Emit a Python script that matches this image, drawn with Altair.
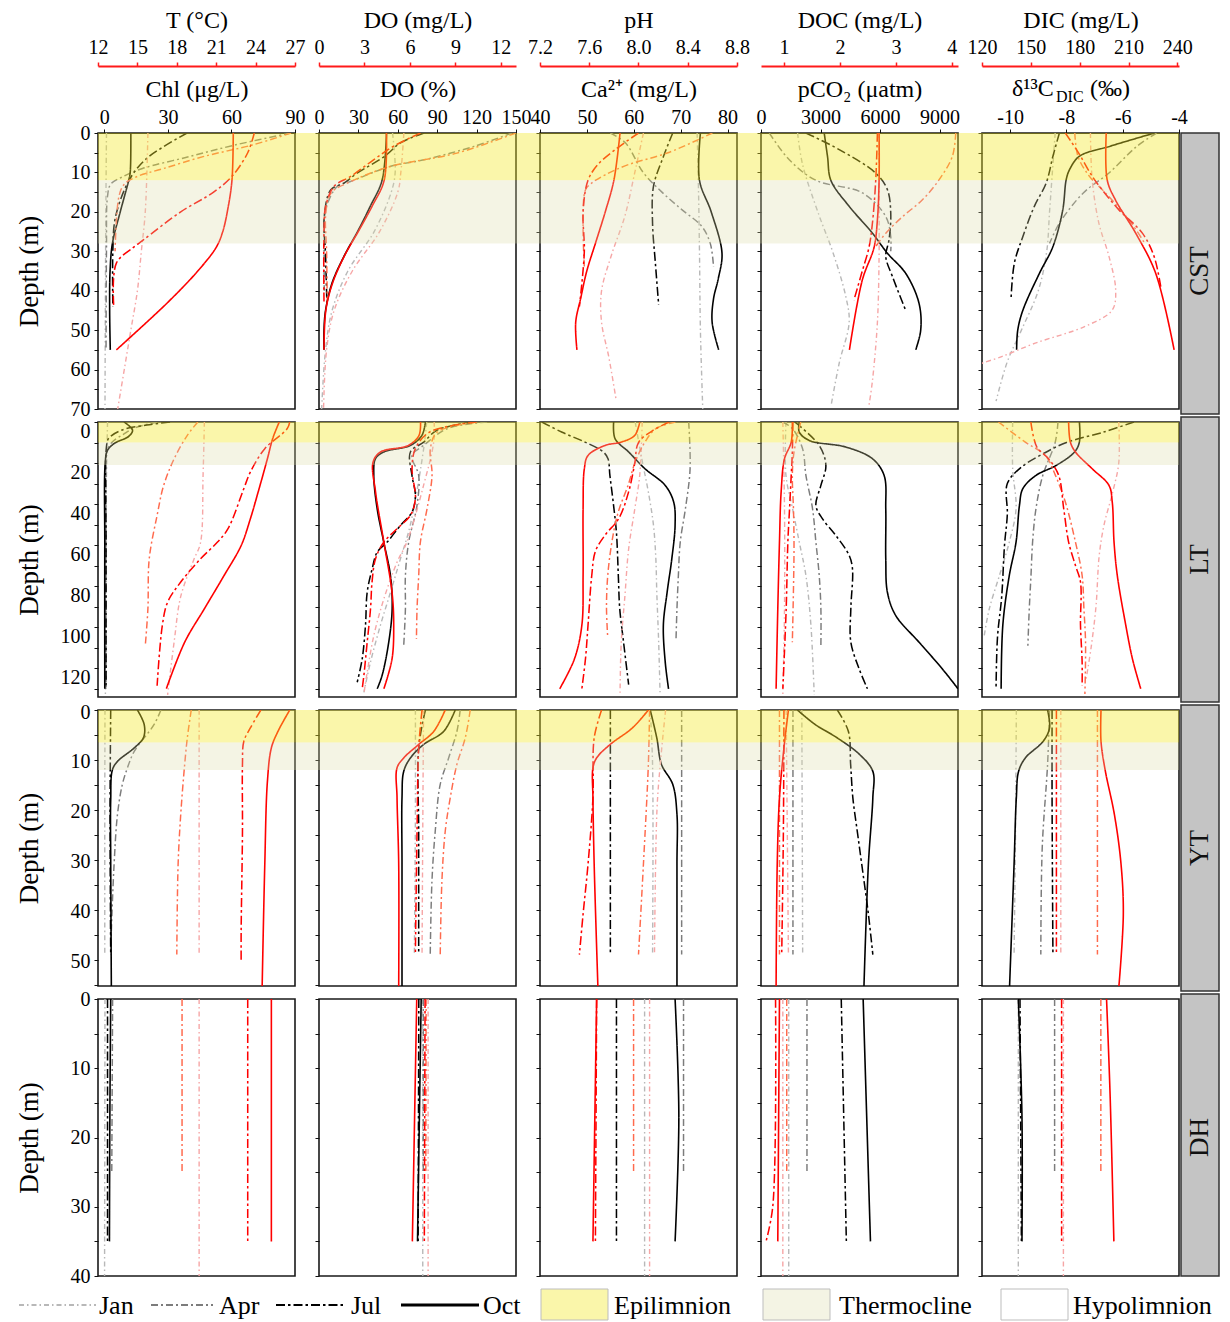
import altair as alt
import pandas as pd

FONT = "Liberation Serif"
MONTHS = ["Jan", "Apr", "Jul", "Oct"]
LAKES = ["CST", "LT", "YT", "DH"]

# ---------------- data: [depth (m), value] per month ----------------
CST_CHL = {"Jan": [[0, 1.0], [20, 0.7], [40, 0.5], [70, 0.3]],
           "Apr": [[0, 88], [3, 62], [6, 40], [9, 18], [11, 9], [13, 3], [16, 1.5], [30, 1], [55, 0.8]],
           "Jul": [[0, 39], [6, 21], [10, 14], [15, 9], [22, 5], [30, 4], [44, 4]],
           "Oct": [[0, 12.5], [10, 12.2], [12, 11.5], [20, 7.5], [28, 3.8], [35, 2.7], [45, 2.5], [55, 2.8]]}
CST_T = {"Jan": [[0, 15.8], [20, 15.6], [30, 15.3], [40, 15.0], [50, 14.5], [60, 14.0], [70, 13.5]],
         "Apr": [[0, 26.7], [3, 23.8], [6, 20.0], [9, 17.0], [11, 15.0], [13, 14.0], [16, 13.6], [30, 13.3]],
         "Jul": [[0, 23.9], [5, 23.4], [11, 22.2], [15, 20.8], [20, 18.3], [27, 15.5], [29, 14.7], [33, 13.4], [44, 13.2]],
         "Oct": [[0, 22.3], [12, 22.2], [19, 21.9], [25, 21.5], [29, 21.0], [35, 19.6], [43, 17.3], [55, 13.4]]}
CST_DOP = {"Jan": [[0, 56], [10, 58], [15, 55], [25, 42], [35, 22], [45, 10], [55, 5], [70, 2]],
           "Apr": [[0, 147], [3.4, 118], [6.8, 80], [8.5, 54], [12.3, 24], [13.5, 14], [19.5, 5], [25, 4], [40, 4]],
           "Jul": [[0, 80], [2.5, 62], [5.9, 50], [10.2, 29], [12.7, 19], [14.4, 9], [21.2, 4], [31, 5], [43, 6]],
           "Oct": [[0, 51.4], [12, 48], [18.6, 39], [24.6, 30], [31.3, 19], [38, 10], [45, 5], [50, 3.8], [55, 3.8]]}
CST_DOM = {"Jan": [[0, 5.6], [10, 5.4], [15, 5.2], [25, 4.0], [35, 2.2], [45, 1.0], [55, 0.5], [70, 0.3]],
           "Apr": [[0, 13.0], [5.1, 9.1], [8.5, 4.7], [12.3, 2.1], [15.2, 0.8], [20.3, 0.45], [30, 0.5], [43, 0.55]],
           "Jul": [[0, 6.7], [3.4, 4.9], [6.8, 3.6], [11, 2.1], [13.5, 1.0], [18.6, 0.44], [25, 0.33], [43, 0.33]],
           "Oct": [[0, 4.45], [12, 4.3], [18.6, 3.5], [24.6, 2.65], [31, 1.7], [38, 0.9], [45, 0.45], [55, 0.33]]}
CST_CA = {"Jan": [[0, 73.5], [15, 73.8], [30, 74.0], [50, 74.2], [70, 74.7]],
          "Apr": [[0, 55], [2.5, 58.2], [10, 62], [15, 66], [19.5, 70.3], [23.7, 74.5], [28, 76.3], [34, 77]],
          "Jul": [[0, 68.3], [6, 66.3], [13.5, 64.2], [23, 64], [33, 64.6], [43.6, 65.3]],
          "Oct": [[0, 74.2], [12, 74], [20, 76.5], [30.5, 78.8], [37, 78], [42, 77], [48, 76.7], [55, 78.1]]}
CST_PH = {"Jan": [[0, 8.04], [10, 7.97], [21, 7.89], [31, 7.78], [40, 7.70], [48, 7.70], [57, 7.76], [68, 7.82]],
          "Apr": [[0, 8.60], [5, 8.24], [8, 7.92], [10.6, 7.73], [12.7, 7.62], [14.4, 7.57], [23, 7.55], [34, 7.56]],
          "Jul": [[0, 8.00], [4, 7.82], [8, 7.67], [12, 7.59], [20, 7.55], [30, 7.56], [44, 7.52]],
          "Oct": [[0, 7.85], [12, 7.80], [20, 7.73], [28, 7.65], [35, 7.58], [42, 7.53], [48, 7.49], [55, 7.50]]}
CST_PCO2 = {"Jan": [[0, 1845], [8, 2096], [21, 2935], [30, 3606], [41.5, 4276], [48, 4444], [58.4, 3941], [69.4, 3522]],
            "Apr": [[0, 419], [6.8, 1425], [12, 2767], [15.2, 5115], [21.2, 6289], [26.3, 6540], [30, 6540]],
            "Jul": [[0, 2264], [4.2, 3941], [10.2, 5786], [14.4, 6373], [20.3, 6540], [27, 6456], [31.3, 6289], [36.4, 6625], [45, 7295]],
            "Oct": [[0, 3186], [6, 3354], [12, 3522], [18.6, 4444], [25.4, 5618], [30.5, 6373], [35.6, 7295], [43.2, 7966], [50, 8050], [55, 7798]]}
CST_DOC = {"Jan": [[0, 2.70], [17, 2.70], [31, 2.70], [48, 2.67], [63, 2.58], [69, 2.52]],
           "Apr": [[0, 4.07], [5.9, 4.01], [11.9, 3.77], [17, 3.47], [21.2, 3.12], [25.4, 2.82], [28.8, 2.64]],
           "Jul": [[0, 2.67], [12, 2.64], [23, 2.58], [29, 2.52], [35, 2.40], [42.4, 2.25]],
           "Oct": [[0, 2.70], [12, 2.70], [22, 2.67], [29, 2.61], [37.3, 2.40], [55, 2.17]]}
CST_D13 = {"Jan": [[0, -8.4], [10, -8.5], [20, -8.6], [30, -8.7], [40, -9.0], [50, -9.6], [58, -10.1], [68, -10.5]],
           "Apr": [[0, -4.8], [3.4, -5.5], [10.2, -6.5], [15.2, -7.4], [22.9, -8.25], [28, -8.6]],
           "Jul": [[0, -8.25], [5.9, -8.48], [12.7, -8.72], [18.6, -9.14], [26.3, -9.55], [33, -9.85], [42.3, -9.97]],
           "Oct": [[0, -4.87], [3.4, -6.47], [5.9, -7.54], [9.3, -7.89], [11.9, -8.01], [19.5, -8.13], [28.8, -8.48],
                   [35.6, -8.96], [45, -9.55], [50, -9.73], [55, -9.77]]}
CST_DIC = {"Jan": [[0, 186.6], [11.9, 187.7], [22.9, 191.8], [31.3, 198], [39.8, 202.1], [44.9, 200], [49, 183.6],
                   [53.3, 152.7], [56.7, 132.1], [58.4, 119.8]],
           "Apr": [[0, 177], [6, 179], [11, 186], [14, 193], [18, 202], [23, 212], [28, 220]],
           "Jul": [[0, 171.2], [5.1, 179.4], [11, 187.7], [14.4, 193.8], [19.5, 204.1], [25.4, 218.5], [31.3, 225.7], [39, 229.8]],
           "Oct": [[0, 196.3], [11.9, 196.9], [17, 202], [25.4, 214.4], [35.6, 226.7], [55, 238]]}

LT_CHL = {"Jan": [[0, 1.5], [40, 0.8], [90, 0.6], [133, 0.5]],
          "Apr": [[0, 25], [3, 14], [6, 9], [10, 3.5], [15, 1], [30, 0.8], [130, 0.8]],
          "Jul": [[0, 31], [1.5, 20], [4, 8], [8, 2], [12, 1], [60, 0.8], [130, 0.8]],
          "Oct": [[0, 9.3], [4, 13.3], [7, 11.5], [10.5, 4.6], [14, 1.4], [20, 0.4], [60, 0.2], [130, 0.2]]}
LT_T = {"Jan": [[0, 20.1], [26, 20.0], [59, 19.8], [67, 19.3], [85, 18.3], [107, 17.8], [133, 17.3]],
        "Apr": [[0, 19.6], [6.5, 18.8], [17.9, 17.8], [30.9, 17.0], [45.5, 16.5], [66.7, 15.9], [91, 15.8], [109, 15.6]],
        "Jul": [[0, 26.6], [3.3, 26.4], [13, 24.7], [24.4, 23.6], [32.5, 23.1], [52, 21.9], [58.5, 21.1], [66.7, 19.8],
                [78, 18.3], [87.8, 17.3], [99, 16.9], [128.5, 16.5]],
        "Oct": [[0, 25.8], [8.1, 25.3], [17.9, 24.9], [34, 24.2], [47.2, 23.6], [60.2, 22.9], [74.8, 21.6], [91, 20.1],
                [107.3, 18.6], [130, 17.2]]}
LT_DOP = {"Jan": [[0, 82], [13, 79.7], [50, 69.6], [66.7, 62], [83, 54.4], [99, 46.8], [117, 39.2], [131.7, 34.2]],
          "Apr": [[0, 128], [3.3, 97.4], [11.4, 79.7], [16.3, 70.8], [26, 75.9], [40.7, 74.6], [58.5, 68.3], [74.8, 65.8],
                  [91, 65.8], [109, 64.5]],
          "Jul": [[0, 117], [4, 89.8], [9.8, 79.7], [14.6, 69.6], [26, 70.8], [35.8, 73.4], [43.9, 70.8], [50.4, 62],
                  [58.5, 51.9], [63.4, 44.3], [71.5, 40.5], [82.9, 36.7], [99, 35.4], [115.4, 32.9], [126.8, 29.1]],
          "Oct": [[0, 81], [6.5, 78.4], [11.4, 69.6], [14.6, 49.3], [17.9, 43], [26, 41.7], [42.3, 44.3], [58.5, 49.3],
                  [74.8, 54.4], [91, 55.7], [107.3, 53.1], [123.6, 48], [130, 44.3]]}
LT_DOM = {"Jan": [[0, 7.6], [9.8, 7.57], [30.9, 6.9], [58.5, 5.8], [68.3, 5.15], [86.2, 4.28], [104, 3.62], [122, 3.18], [132.5, 2.96]],
          "Apr": [[0, 10.4], [4.9, 7.8], [13, 7.35], [26, 7.46], [42.3, 7.13], [58.5, 6.69], [74.8, 6.58], [91, 6.47], [105.7, 6.43]],
          "Jul": [[0, 10.4], [4.9, 7.3], [13, 6.36], [22.8, 6.14], [37.4, 6.36], [45.5, 6.03], [52, 5.15], [58.5, 4.28],
                  [66.7, 3.73], [78, 3.5], [91, 3.4], [107.3, 3.18], [123.6, 2.96], [130, 2.85]],
          "Oct": [[0, 6.7], [6.5, 6.6], [11.4, 5.9], [14.6, 4.06], [19.5, 3.57], [34, 3.73], [58.5, 4.28], [83, 4.82],
                  [99, 4.93], [115.4, 4.82], [130, 4.28]]}
LT_CA = {"Jan": [[0, 60.3], [17.9, 61.7], [34.1, 63.1], [50.4, 64.2], [66.7, 64.7], [83, 64.9], [107.3, 65.3], [132.5, 65.6]],
         "Apr": [[0, 71.7], [22.8, 72], [42.3, 71], [58.5, 69.9], [74.8, 69.5], [91, 69.2], [105.7, 69]],
         "Jul": [[0, 40.4], [4.9, 44.6], [9.8, 49.6], [14.6, 53.5], [17.9, 54.5], [26, 54.9], [39, 55.6], [54, 56.3],
                 [75, 56.7], [91, 57], [107, 57.8], [128, 58.9]],
         "Oct": [[0, 55.7], [8.1, 56], [14.6, 58.9], [22.8, 62.4], [30.9, 66.7], [39, 68.5], [50.4, 68.8], [66.7, 68.1],
                 [83, 67.1], [99, 66.3], [117, 66.7], [130, 67.4]]}
LT_PH = {"Jan": [[0, 8.03], [26, 8.01], [42.3, 7.97], [61.8, 7.92], [84.5, 7.89], [107.3, 7.86], [132.5, 7.85]],
         "Apr": [[0, 8.30], [3.3, 8.14], [10, 8.05], [20, 7.97], [30, 7.92], [45, 7.83], [60, 7.78], [75, 7.75], [90, 7.74], [105, 7.75]],
         "Jul": [[0, 8.25], [4, 8.12], [10, 8.0], [20, 7.97], [34, 7.92], [47, 7.84], [55, 7.73], [63, 7.65], [75, 7.62],
                 [99, 7.59], [115, 7.57], [130, 7.54]],
         "Oct": [[0, 8.01], [6.5, 7.97], [9.8, 7.86], [11.4, 7.73], [16.3, 7.59], [22.8, 7.56], [42.3, 7.55], [74.8, 7.55],
                 [99, 7.54], [115.4, 7.48], [130, 7.36]]}
LT_PCO2 = {"Jan": [[0, 1258], [26, 1258], [42.3, 1593], [58.5, 1929], [74.8, 2264], [99, 2516], [133, 2683]],
           "Apr": [[0, 1090], [3.3, 1593], [13, 2096], [26, 2264], [42.3, 2599], [58.5, 2767], [74.8, 2935], [91, 3019], [109, 3019]],
           "Jul": [[0, 1700], [11.4, 2935], [21.2, 3270], [30.9, 3019], [40.7, 2767], [47.2, 3102], [55.3, 3773], [65, 4444],
                   [71.5, 4611], [91, 4528], [107.3, 4528], [120.3, 4947], [130, 5366]],
           "Oct": [[0, 1929], [4.9, 1929], [9, 2432], [12.2, 4276], [17.9, 5618], [26, 6205], [42.3, 6289], [66.7, 6289],
                   [83, 6373], [94.3, 6792], [107.3, 7966], [120.3, 9140], [130, 9930]]}
LT_DOC = {"Jan": [[0, 0.98], [42.3, 1.01], [91, 1.01], [133, 0.98]],
          "Apr": [[0, 1.30], [14.6, 1.18], [26, 1.15], [42.3, 1.17], [61.8, 1.18], [107.3, 1.15]],
          "Jul": [[0, 1.16], [14.6, 1.15], [26, 1.13], [42.3, 1.10], [58.5, 1.07], [91, 1.04], [130, 0.98]],
          "Oct": [[0, 1.15], [9.8, 1.13], [17.9, 1.01], [34, 0.95], [58.5, 0.92], [91, 0.89], [130, 0.86]]}
LT_D13 = {"Jan": [[0, -9.91], [22.8, -9.91], [42.3, -9.79], [58.5, -10.03], [74.8, -10.38], [91, -10.74], [104, -10.92]],
          "Apr": [[0, -8.3], [10, -8.4], [26, -8.84], [42, -9.08], [58, -9.2], [75, -9.26], [91, -9.32], [109, -9.37]],
          "Jul": [[0, -5.6], [5, -6.7], [10, -8.0], [16, -8.9], [22, -9.6], [30, -10.1], [45, -10.1], [60, -10.2],
                  [85, -10.3], [105, -10.45], [129, -10.5]],
          "Oct": [[0, -7.54], [9.8, -7.54], [14.6, -7.71], [21.2, -8.37], [26, -9.08], [32.5, -9.55], [40.7, -9.67],
                  [58.5, -9.79], [74.8, -10.03], [99, -10.26], [130, -10.32]]}
LT_DIC = {"Jan": [[0, 204], [20, 204], [35, 200], [50, 195], [65, 192], [90, 190], [110, 187], [125, 184]],
          "Apr": [[0, 130.1], [9.8, 146.6], [16.3, 158.9], [26, 165.1], [39, 171.2], [58.5, 177.4], [74.8, 181.5],
                  [91, 182.6], [107.3, 183.6], [132.5, 183.2]],
          "Jul": [[0, 150], [12.2, 153.7], [17.9, 160.9], [26, 167.1], [42.3, 170.2], [58.5, 173.2], [69.9, 177.4],
                  [78, 180.5], [99, 180.5], [117, 181.5], [128.5, 181.5]],
          "Oct": [[0, 173.2], [9.8, 174.3], [14.6, 177.4], [22.8, 187.7], [30.9, 198], [39, 200], [58.5, 201.1],
                  [74.8, 203.1], [99, 208.3], [115.4, 212.4], [130, 217.5]]}

YT_CHL = {"Jan": [[0, 0.3], [20, 0.2], [49, 0.2]],
          "Apr": [[0, 26.7], [2.9, 23.5], [8.3, 14.1], [11.6, 10.9], [14.9, 8.5], [20.9, 6.2], [30.9, 4.6], [44.3, 3.3], [49, 3.0]],
          "Jul": [[0, 3.0], [20, 2.7], [49, 3.0]],
          "Oct": [[0, 15.6], [2.9, 18.8], [5.5, 18.5], [7.6, 14.1], [10.3, 6.2], [12, 3.8], [18, 3], [30, 3], [55.3, 3.3]]}
YT_T = {"Jan": [[0, 19.7], [20, 19.7], [49, 19.7]],
        "Apr": [[0, 19.1], [5.6, 18.8], [10.9, 18.6], [20.9, 18.3], [30.9, 18.1], [49, 18.0]],
        "Jul": [[0, 24.4], [3.6, 23.6], [6.3, 23.1], [10.9, 23.0], [24.3, 23.0], [44.3, 22.9], [50.3, 22.9]],
        "Oct": [[0, 26.6], [4.3, 25.7], [7.6, 25.2], [14.3, 24.9], [30.9, 24.7], [55.3, 24.5]]}
YT_DOP = {"Jan": [[0, 73.4], [20, 73.4], [49, 72.6]],
          "Apr": [[0, 107.5], [4.3, 105], [9.6, 98.7], [14.9, 92.3], [24.3, 88.5], [34.3, 86], [49, 84.7]],
          "Jul": [[0, 81], [7.6, 75.9], [24.3, 75.9], [49, 75.9]],
          "Oct": [[0, 103.7], [4.3, 94.9], [6.9, 79.7], [9.6, 69.6], [12.3, 64.5], [17.6, 63.2], [30.9, 63.2], [55.3, 63.2]]}
YT_DOM = {"Jan": [[0, 6.9], [17.6, 6.86], [49, 6.8]],
          "Apr": [[0, 9.98], [5.6, 9.65], [10.9, 9.1], [17.6, 8.66], [24.3, 8.33], [34.3, 8.11], [49, 8.0]],
          "Jul": [[0, 6.8], [7.6, 6.58], [24.3, 6.47], [49, 6.36]],
          "Oct": [[0, 8.33], [4.3, 7.57], [6.9, 6.58], [9.6, 5.59], [11.6, 5.15], [17.6, 5.15], [30.9, 5.26], [55.3, 5.26]]}
YT_CA = {"Jan": [[0, 63.5], [10.9, 64], [49, 64]],
         "Apr": [[0, 70.2], [24.3, 70.2], [49, 70.2]],
         "Jul": [[0, 55], [20, 55], [49, 55]],
         "Oct": [[0, 63.5], [5.6, 64.9], [10.9, 65.9], [14.9, 68.3], [20.9, 69.2], [30.9, 69.2], [55.3, 69.2]]}
YT_PH = {"Jan": [[0, 8.22], [10, 8.18], [20, 8.15], [49, 8.13]],
         "Apr": [[0, 8.09], [10.9, 8.08], [30.9, 8.04], [49, 8.0]],
         "Jul": [[0, 7.70], [5.6, 7.64], [17.6, 7.63], [30.9, 7.59], [40.9, 7.55], [49, 7.52]],
         "Oct": [[0, 8.08], [3.6, 7.95], [6.9, 7.77], [9.6, 7.66], [11.6, 7.63], [17.6, 7.63], [30.9, 7.64], [55.3, 7.67]]}
YT_PCO2 = {"Jan": [[0, 2058], [49, 2100]],
           "Apr": [[0, 1610], [24, 1610], [49, 1610]],
           "Jul": [[0, 3847], [4.3, 4406], [10.9, 4518], [17.6, 4630], [24.3, 4853], [30.9, 5077], [40.9, 5413], [49, 5637]],
           "Oct": [[0, 1834], [2.9, 2729], [5.6, 3847], [8.9, 4965], [12.3, 5637], [17.6, 5637], [30.9, 5413], [55.3, 5190]]}
YT_DOC = {"Jan": [[0, 1.04], [49, 1.08]],
          "Apr": [[0, 0.92], [49, 0.92]],
          "Jul": [[0, 1.0], [24.3, 0.99], [49, 0.96]],
          "Oct": [[0, 1.08], [7.6, 1.0], [17.6, 0.92], [30.9, 0.88], [55.3, 0.86]]}
YT_D13 = {"Jan": [[0, -9.78], [24.3, -9.81], [49, -9.86]],
          "Apr": [[0, -8.6], [10.9, -8.67], [27.6, -8.86], [49, -8.91]],
          "Jul": [[0, -8.51], [17.6, -8.51], [49, -8.48]],
          "Oct": [[0, -8.67], [3.6, -8.6], [6.3, -8.83], [9.6, -9.46], [12.3, -9.7], [17.6, -9.78], [30.9, -9.86], [55.3, -10.02]]}
YT_DIC = {"Jan": [[0, 168.4], [49, 168.4]],
          "Apr": [[0, 190.9], [49, 190.9]],
          "Jul": [[0, 165.7], [49, 165.7]],
          "Oct": [[0, 193.1], [6.3, 193.1], [12.3, 195.8], [20.9, 201.3], [30.9, 205.4], [40.9, 206.8], [55.3, 204.1]]}

DH_CHL = {"Jan": [[0, 0.3], [40, 0.1]], "Apr": [[0, 3.9], [25, 3.5]],
          "Jul": [[0, 1.5], [35, 1.5]], "Oct": [[0, 3.0], [17, 2.6], [35, 2.4]]}
DH_T = {"Jan": [[0, 19.7], [40, 19.7]], "Apr": [[0, 18.4], [25, 18.4]],
        "Jul": [[0, 23.4], [35, 23.4]], "Oct": [[0, 25.2], [35, 25.2]]}
DH_DOP = {"Jan": [[0, 79], [40, 79]], "Apr": [[0, 79.4], [25, 79.4]],
          "Jul": [[0, 76], [35, 75.5]], "Oct": [[0, 77.8], [35, 75]]}
DH_DOM = {"Jan": [[0, 7.2], [40, 7.2]], "Apr": [[0, 7.07], [25, 7.05]],
          "Jul": [[0, 7.0], [35, 6.95]], "Oct": [[0, 6.45], [35, 6.16]]}
DH_CA = {"Jan": [[0, 62.3], [40, 62.3]], "Apr": [[0, 70.6], [25, 70.6]],
         "Jul": [[0, 56.3], [35, 56.3]], "Oct": [[0, 68.8], [17, 69.6], [35, 68.8]]}
DH_PH = {"Jan": [[0, 8.09], [40, 8.09]], "Apr": [[0, 7.96], [25, 7.96]],
         "Jul": [[0, 7.66], [35, 7.65]], "Oct": [[0, 7.66], [35, 7.63]]}
DH_PCO2 = {"Jan": [[0, 1398], [40, 1398]], "Apr": [[0, 2317], [25, 2317]],
           "Jul": [[0, 4045], [35, 4302]], "Oct": [[0, 5149], [35, 5517]]}
DH_DOC = {"Jan": [[0, 0.98], [40, 0.98]], "Apr": [[0, 1.05], [25, 1.05]],
          "Jul": [[0, 0.85], [30, 0.8], [35, 0.68]], "Oct": [[0, 0.92], [35, 0.89]]}
DH_D13 = {"Jan": [[0, -9.71], [40, -9.71]], "Apr": [[0, -8.42], [25, -8.42]],
          "Jul": [[0, -9.65], [35, -9.6]], "Oct": [[0, -9.71], [17, -9.58], [35, -9.58]]}
DH_DIC = {"Jan": [[0, 170], [40, 170]], "Apr": [[0, 193], [25, 193]],
          "Jul": [[0, 168.9], [35, 168.9]], "Oct": [[0, 196.5], [14, 198.7], [35, 201]]}

BLACK_VARS = {"CST": [CST_CHL, CST_DOP, CST_CA, CST_PCO2, CST_D13],
              "LT": [LT_CHL, LT_DOP, LT_CA, LT_PCO2, LT_D13],
              "YT": [YT_CHL, YT_DOP, YT_CA, YT_PCO2, YT_D13],
              "DH": [DH_CHL, DH_DOP, DH_CA, DH_PCO2, DH_D13]}
RED_VARS = {"CST": [CST_T, CST_DOM, CST_PH, CST_DOC, CST_DIC],
            "LT": [LT_T, LT_DOM, LT_PH, LT_DOC, LT_DIC],
            "YT": [YT_T, YT_DOM, YT_PH, YT_DOC, YT_DIC],
            "DH": [DH_T, DH_DOM, DH_PH, DH_DOC, DH_DIC]}

MAX_DEPTH = {"CST": 70, "LT": 134, "YT": 55.3, "DH": 40}
EPI = {"CST": [0, 12], "LT": [0, 10], "YT": [0, 6.5]}
THERMO = {"CST": [12, 28], "LT": [10, 21], "YT": [6.5, 12]}

BLACK_TITLES = ["Chl (μg/L)", "DO (%)", "Ca²⁺ (mg/L)", "pCO₂ (μatm)", ""]
BLACK_DOMAINS = [[-3, 90], [0, 150], [40, 82], [0, 9930], [-11, -4]]
BLACK_TICKS = [[0, 30, 60, 90], [0, 30, 60, 90, 120, 150], [40, 50, 60, 70, 80], [0, 3000, 6000, 9000], [-10, -8, -6, -4]]
RED_TITLES = ["T (°C)", "DO (mg/L)", "pH", "DOC (mg/L)", "DIC (mg/L)"]
RED_DOMAINS = [[12, 27], [0, 13], [7.2, 8.8], [0.59, 4.11], [120, 241]]
RED_TICKS = [[12, 15, 18, 21, 24, 27], [0, 3, 6, 9, 12], [7.2, 7.6, 8.0, 8.4, 8.8], [1, 2, 3, 4], [120, 150, 180, 210, 240]]
LEGEND_MONTHS = MONTHS
LEGEND_LAYERS = ["Epilimnion", "Thermocline", "Hypolimnion"]

# ---------------- styling ----------------
ROW_H = {"CST": 276, "LT": 275, "YT": 276, "DH": 277}
TICK_STEP = {"CST": 5, "LT": 10, "YT": 5, "DH": 5}
LABEL_STEP = {"CST": 10, "LT": 20, "YT": 10, "DH": 10}
LABEL_SHIFT = {"CST": 0, "LT": 9, "YT": 2, "DH": 0}
W = 197
GAP = 24
STRIP_W = 16
RED = "#ff1a1a"
BLACK_COLS = ["#b8b8b8", "#7c7c7c", "#000000", "#000000"]
RED_COLS = ["#f6a6a6", "#ff6a4d", "#ff0000", "#ff0000"]
DASHES = [[5, 3, 1.5, 3], [7, 3, 2, 3], [9, 3, 2.5, 3], [1, 0]]
WIDTHS = [1.4, 1.6, 2.2, 2.0]
SERIES = ["b_" + m for m in MONTHS] + ["r_" + m for m in MONTHS]
EPI_FILL, EPI_OP = "#f3e92b", 0.4
TH_FILL, TH_OP = "#dadaa5", 0.3


def frame(dct, var):
    rows = []
    for m in MONTHS:
        for dep, val in dct[m]:
            rows.append({"depth": dep, "value": val, "month": m, "series": var + "_" + m})
    return pd.DataFrame(rows)


def y_axis(lake, first_col):
    maxd = MAX_DEPTH[lake]
    vals = list(range(0, int(maxd) + 1, TICK_STEP[lake]))
    if first_col:
        return alt.Axis(values=vals, labelExpr=f"datum.value % {LABEL_STEP[lake]} == 0 ? datum.value + '' : ''",
                        title="Depth (m)", titleX=-69, titleY=ROW_H[lake] / 2, titleAngle=270,
                        titleAlign="center", titleBaseline="middle", titleFontSize=27,
                        tickSize=4, labelFontSize=20, labelPadding=4, domain=False, labelOverlap=False,
                        labelOffset=LABEL_SHIFT[lake])
    return alt.Axis(values=vals, labels=False, title=None, tickSize=4, domain=False)


def y_scale(lake):
    return alt.Scale(domain=[0, MAX_DEPTH[lake]], reverse=True, nice=False, zero=False)


def line_layer(dct, var, ci, lake, first_row, first_col):
    df = frame(dct, var)
    if first_row:
        if var == "b":
            dom, vals, title = BLACK_DOMAINS[ci], BLACK_TICKS[ci], BLACK_TITLES[ci]
            ax = dict(orient="top", values=vals, tickSize=4, labelPadding=6, labelBaseline="alphabetic",
                      labelFlush=False, labelOverlap=False, domainColor="#111", tickColor="#111",
                      titleY=-37, titleBaseline="alphabetic", titleFontSize=24,
                      title=title if title else None)
            if ci == 4:
                ax["labelExpr"] = "datum.value + ''"
            else:
                ax["format"] = "d"
            axis = alt.Axis(**ax)
        else:
            dom, vals, title = RED_DOMAINS[ci], RED_TICKS[ci], RED_TITLES[ci]
            axis = alt.Axis(orient="top", offset=67, values=vals, title=title, tickSize=4, labelPadding=9,
                            labelBaseline="alphabetic", labelFlush=False, labelOverlap=False,
                            domainColor=RED, domainWidth=2.2, tickColor=RED, tickWidth=1.5,
                            titleY=-39, titleBaseline="alphabetic", titleFontSize=24,
                            format=".1f" if ci == 2 else "d")
    else:
        dom = BLACK_DOMAINS[ci] if var == "b" else RED_DOMAINS[ci]
        axis = None
    return alt.Chart(df).mark_line(interpolate="catmull-rom", clip=True).encode(
        x=alt.X("value:Q", scale=alt.Scale(domain=dom, nice=False, zero=False), axis=axis),
        y=alt.Y("depth:Q", scale=y_scale(lake), axis=y_axis(lake, first_col)),
        color=alt.Color("series:N", scale=alt.Scale(domain=SERIES, range=BLACK_COLS + RED_COLS), legend=None),
        strokeDash=alt.StrokeDash("month:N", scale=alt.Scale(domain=MONTHS, range=DASHES), legend=None),
        strokeWidth=alt.StrokeWidth("month:N", scale=alt.Scale(domain=MONTHS, range=WIDTHS), legend=None),
        order=alt.Order("depth:Q"),
    )


def band_layer(rng, fill, op, lake, ci, first_col):
    x0 = 0 if ci == 0 else -GAP / 2
    x1 = W if ci == 4 else W + GAP / 2
    df = pd.DataFrame({"top": [rng[0]], "bottom": [rng[1]]})
    return alt.Chart(df).mark_rect(fill=fill, opacity=op).encode(
        x=alt.value(x0), x2=alt.value(x1),
        y=alt.Y("top:Q", scale=y_scale(lake), axis=y_axis(lake, first_col)),
        y2="bottom:Q",
    )


def text_layer(txt, x, y, size, align="left", baseline="alphabetic"):
    return alt.Chart(pd.DataFrame({"t": [txt]})).mark_text(
        font=FONT, fontSize=size, align=align, baseline=baseline, color="black"
    ).encode(text="t:N", x=alt.value(x), y=alt.value(y))


def legend_layers(h):
    out = []
    one = pd.DataFrame({"n": [0]})
    ly = h + 29
    pos = [(-79, -2, 1), (53, 115, 121), (178, 248, 253), (303, 381, 385)]
    cols = ["#b8b8b8", "#7c7c7c", "#000000", "#000000"]
    lw = [1.8, 1.8, 2.2, 3.0]
    for i, m in enumerate(LEGEND_MONTHS):
        a, b, lx = pos[i]
        out.append(alt.Chart(one).mark_rule(color=cols[i], strokeDash=DASHES[i], strokeWidth=lw[i]).encode(
            x=alt.value(a), x2=alt.value(b), y=alt.value(ly)))
        out.append(text_layer(m, lx, ly + 1, 26, baseline="middle"))
    sw = [("#faf6aa", 443, 516), ("#f4f4e4", 665, 741), ("#ffffff", 903, 975)]
    for i, name in enumerate(LEGEND_LAYERS):
        col, sx, lx = sw[i]
        out.append(alt.Chart(one).mark_rect(fill=col, stroke="#bdbdbd", strokeWidth=1).encode(
            x=alt.value(sx), x2=alt.value(sx + 67), y=alt.value(ly - 16), y2=alt.value(ly + 15)))
        out.append(text_layer(name, lx, ly + 1, 26, baseline="middle"))
    return out


def panel(lake, ci, ri):
    first_row = ri == 0
    first_col = ci == 0
    layers = [line_layer(BLACK_VARS[lake][ci], "b", ci, lake, first_row, first_col),
              line_layer(RED_VARS[lake][ci], "r", ci, lake, first_row, first_col)]
    if lake in EPI:
        layers.append(band_layer(EPI[lake], EPI_FILL, EPI_OP, lake, ci, first_col))
        layers.append(band_layer(THERMO[lake], TH_FILL, TH_OP, lake, ci, first_col))
    if first_row and ci == 4:
        layers.append(text_layer("δ¹³C", 30, -37, 24))
        layers.append(text_layer("DIC", 74, -31, 16))
        layers.append(text_layer("(‰)", 108, -37, 24))
    if ri == 3 and ci == 0:
        layers.extend(legend_layers(ROW_H[lake]))
    return alt.layer(*layers).resolve_scale(x="independent").properties(width=W, height=ROW_H[lake])


def strip(lake, ri):
    h = ROW_H[lake]
    y0 = 0 if ri == 0 else -5
    y1 = h if ri == 3 else h + 5
    one = pd.DataFrame({"n": [lake]})
    rect = alt.Chart(one).mark_rect(fill="#c4c4c4", stroke="#333", strokeWidth=1.5).encode(
        x=alt.value(-GAP + 2), x2=alt.value(STRIP_W), y=alt.value(y0), y2=alt.value(y1))
    txt = alt.Chart(one).mark_text(font=FONT, fontSize=27, angle=270, align="center", baseline="middle",
                                   color="#111").encode(text="n:N", x=alt.value((STRIP_W - GAP + 2) / 2),
                                                        y=alt.value(h / 2))
    return alt.layer(rect, txt).properties(width=STRIP_W, height=h, view=alt.ViewBackground(stroke="transparent"))


cells = []
for ri, lake in enumerate(LAKES):
    for ci in range(5):
        cells.append(panel(lake, ci, ri))
    cells.append(strip(lake, ri))

chart = alt.concat(*cells, columns=6, spacing={"row": 13, "column": GAP}, bounds="flush").properties(
    padding={"left": 14, "top": 7, "right": 6, "bottom": 2}, background="white"
).configure(font=FONT).configure_axis(
    labelFont=FONT, titleFont=FONT, labelFontSize=20, titleFontSize=24, labelColor="black",
    titleColor="black", titleFontWeight="normal", grid=False, tickColor="#111"
).configure_view(stroke="#1a1a1a", strokeWidth=1.6)

chart.save("out.html", embed_options={"renderer": "svg", "actions": False})
